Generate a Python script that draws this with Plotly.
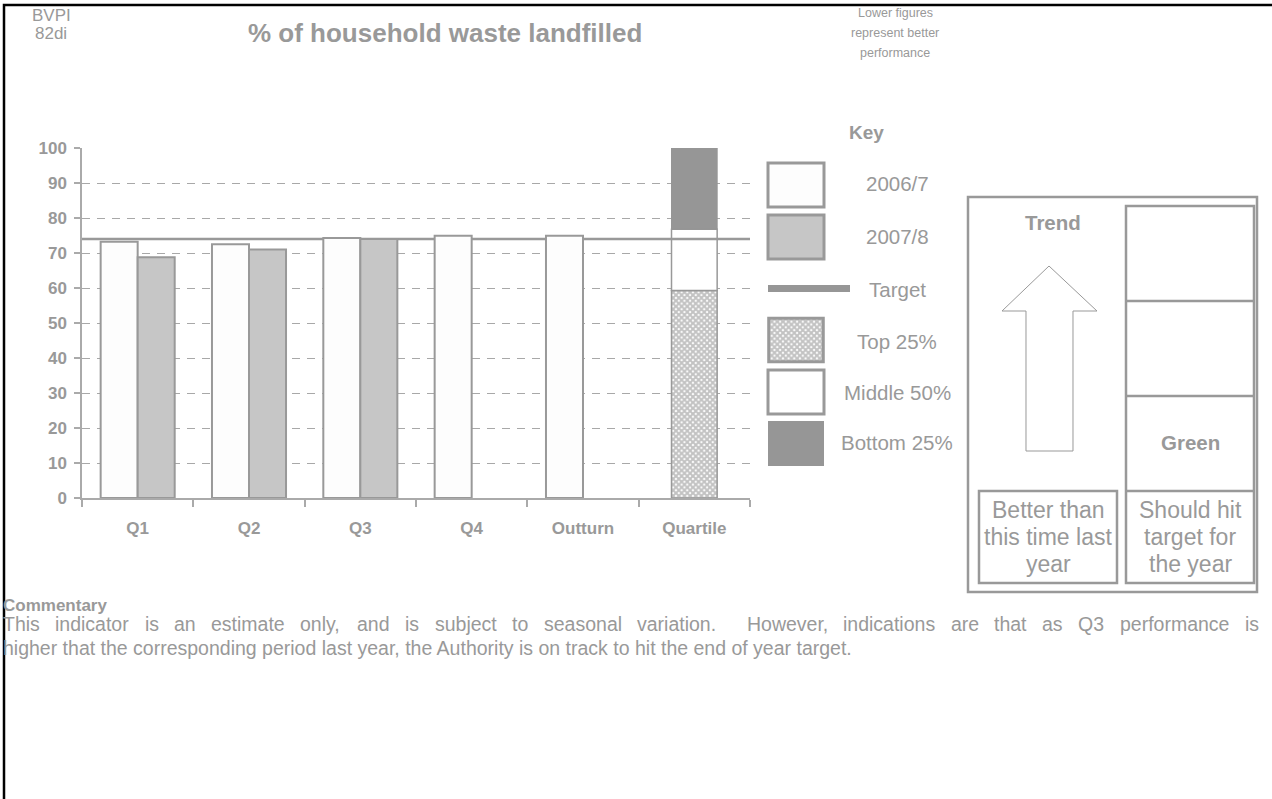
import plotly.graph_objects as go

W, H = 1272, 799

# ---------------- data ----------------
categories = ["Q1", "Q2", "Q3", "Q4", "Outturn", "Quartile"]
values_2006_7 = [73.2, 72.5, 74.3, 74.9, 74.9]
values_2007_8 = [68.8, 71.0, 74.0]
target_value = 74.0
quartile_top25 = 59.3      # top 25% band: 0 -> 59.3
quartile_mid50 = 76.8      # middle 50% band: 59.3 -> 76.8
quartile_max = 100.0       # bottom 25% band: 76.8 -> 100
y_ticks = list(range(0, 101, 10))

key_labels = ["2006/7", "2007/8", "Target", "Top 25%", "Middle 50%", "Bottom 25%"]
commentary = [
    "This indicator is an estimate only, and is subject to seasonal variation.  However, indications are that as Q3 performance is",
    "higher that the corresponding period last year, the Authority is on track to hit the end of year target.",
]

# ---------------- style ----------------
GREY = "#999999"
TXT = "#999999"
FONT = "Liberation Sans, Arial, sans-serif"
WHITE_FILL = "#fdfdfd"
LIGHT_FILL = "#c6c6c6"
DARK_FILL = "#969696"
QW = 0.41  # quartile bar width (category units)
CHECK = dict(shape="x", fgcolor="#858585", bgcolor="white", size=4, solidity=0.75)

# Arial / Liberation Sans advance widths (1/1000 em) for justified commentary line
AW = dict(zip("abcdefghijklmnopqrstuvwxyz",
              [556, 556, 500, 556, 556, 278, 556, 556, 222, 222, 500, 222, 833,
               556, 556, 556, 556, 333, 500, 278, 556, 500, 722, 500, 500, 500]))
AW.update({" ": 278, ",": 278, ".": 278, "T": 611, "H": 611, "Q": 778, "A": 667, "3": 556})


def text_w(s, size):
    return sum(AW.get(c, 556) for c in s) * size / 1000


def px(x):
    return x / W


def py(y):
    return 1 - y / H


fig = go.Figure()

fig.add_bar(name="2006/7", x=categories[:len(values_2006_7)], y=values_2006_7,
            marker=dict(color=WHITE_FILL, line=dict(color=GREY, width=2)))
fig.add_bar(name="2007/8", x=categories[:len(values_2007_8)], y=values_2007_8,
            marker=dict(color=LIGHT_FILL, line=dict(color=GREY, width=2)))

qx = [categories[-1]]
fig.add_bar(name="Top 25%", x=qx, base=[0], y=[quartile_top25], width=QW, offset=-QW / 2,
            marker=dict(color="white", line=dict(color=GREY, width=1.5), pattern=CHECK))
fig.add_bar(name="Middle 50%", x=qx, base=[quartile_top25], y=[quartile_mid50 - quartile_top25],
            width=QW, offset=-QW / 2,
            marker=dict(color="white", line=dict(color=GREY, width=1.5)))
fig.add_bar(name="Bottom 25%", x=qx, base=[quartile_mid50], y=[quartile_max - quartile_mid50],
            width=QW, offset=-QW / 2,
            marker=dict(color=DARK_FILL, line=dict(color=DARK_FILL, width=1)))

# key swatch for the patterned "Top 25%" (drawn on a hidden helper axis)
fig.add_bar(x=[0.5], y=[1], base=[0], width=[1], xaxis="x2", yaxis="y2", hoverinfo="skip",
            marker=dict(color="white", line=dict(color=GREY, width=3), pattern=CHECK))

shapes = []
# target line (behind bars) + segment over the quartile bar
shapes.append(dict(type="line", xref="x domain", yref="y", x0=0, x1=1, y0=target_value, y1=target_value,
                   line=dict(color=GREY, width=2.5), layer="below"))
qi = categories.index("Quartile")
shapes.append(dict(type="line", xref="x", yref="y", x0=qi - QW / 2, x1=qi + QW / 2,
                   y0=target_value, y1=target_value, line=dict(color=GREY, width=2.5), layer="above"))

# outer black frame (cut by the page edge)
shapes.append(dict(type="rect", xref="paper", yref="paper", x0=px(4), x1=px(1400), y0=py(5), y1=py(900),
                   line=dict(color="black", width=2.5), layer="below"))


def rect(x0, y0, x1, y1, fill, lc=GREY, lw=3):
    shapes.append(dict(type="rect", xref="paper", yref="paper", x0=px(x0), x1=px(x1), y0=py(y0), y1=py(y1),
                       fillcolor=fill, line=dict(color=lc, width=lw)))


# key swatches
rect(768, 163, 824, 207, WHITE_FILL)
rect(768, 215, 824, 259, LIGHT_FILL)
rect(768, 285, 850, 292, DARK_FILL, lc=DARK_FILL, lw=0)
rect(768, 370, 824, 414, "white")
rect(768, 421, 824, 466, DARK_FILL, lc=DARK_FILL, lw=0)

# right panel
rect(968, 197, 1257, 592, "rgba(0,0,0,0)", lw=2.5)
rect(1126, 206, 1254, 583, "rgba(0,0,0,0)", lw=2.5)
for yy in (301, 396, 491):
    shapes.append(dict(type="line", xref="paper", yref="paper", x0=px(1126), x1=px(1254), y0=py(yy), y1=py(yy),
                       line=dict(color=GREY, width=2.5)))
rect(979, 491, 1117, 583, "rgba(0,0,0,0)", lw=2.5)

# trend arrow
pts = [(1049, 266), (1097, 311), (1073, 311), (1073, 451), (1026, 451), (1026, 311), (1002, 311)]
path = "M " + " L ".join(f"{px(a):.5f},{py(b):.5f}" for a, b in pts) + " Z"
shapes.append(dict(type="path", xref="paper", yref="paper", path=path, line=dict(color=GREY, width=1),
                   fillcolor="white"))

annotations = []


def txt(text, x, y, size=16, bold=False, xanchor="center"):
    annotations.append(dict(text=f"<b>{text}</b>" if bold else text, x=px(x), y=py(y), xref="paper",
                            yref="paper", showarrow=False, xanchor=xanchor, yanchor="middle",
                            font=dict(family=FONT, size=size, color=TXT)))


txt("BVPI", 51, 15, size=17)
txt("82di", 51, 34, size=17)
txt("% of household waste landfilled", 445, 33, size=26, bold=True)
txt("Lower figures", 895, 13, size=12.5)
txt("represent better", 895, 33, size=12.5)
txt("performance", 895, 53, size=12.5)
txt("Key", 866, 132, size=19, bold=True)
for lab, yy in zip(key_labels, [184, 237, 289, 341, 392, 443]):
    txt(lab, 897, yy, size=20.5)
txt("Trend", 1053, 223, size=20.5, bold=True)
txt("Green", 1190, 443, size=20.5, bold=True)
for line, yy in zip(["Better than", "this time last", "year"], [510, 537, 564]):
    txt(line, 1048, yy, size=23)
for line, yy in zip(["Should hit", "target for", "the year"], [510, 537, 564]):
    txt(line, 1190, yy, size=23)
txt("Commentary", 1, 605, size=17, bold=True, xanchor="left")

# commentary: first line justified across the text box, last line left-aligned
CS = 19.5
LEFT, RIGHT = 1, 1257
tokens = commentary[0].split(" ")
n_spaces = len(tokens) - 1
gap = (RIGHT - LEFT - sum(text_w(t, CS) for t in tokens if t)) / n_spaces
xc = LEFT
for t in tokens:
    if t:
        txt(t, xc, 624, size=CS, xanchor="left")
        xc += text_w(t, CS)
    xc += gap
txt(commentary[1], LEFT, 648, size=CS, xanchor="left")

fig.update_layout(
    width=W, height=H, margin=dict(l=0, r=0, t=0, b=0, autoexpand=False),
    paper_bgcolor="white", plot_bgcolor="white",
    barmode="group", bargap=0.335, bargroupgap=0,
    showlegend=False,
    shapes=shapes, annotations=annotations,
    font=dict(family=FONT, color=TXT),
    xaxis=dict(domain=[px(82), px(750)], type="category", categoryorder="array", categoryarray=categories,
               showline=True, linecolor="#aaaaaa", linewidth=1.5, ticks="outside", tickson="boundaries",
               ticklen=7, tickcolor="#aaaaaa", tickwidth=1.5, ticklabelstandoff=14,
               tickfont=dict(family=FONT, size=17, color=TXT, weight="bold"), showgrid=False),
    yaxis=dict(domain=[py(498), py(148)], range=[0, 100], tickvals=y_ticks,
               showline=True, linecolor="#aaaaaa", linewidth=1.5, ticks="outside", ticklen=6,
               tickcolor="#aaaaaa", tickwidth=1.5, ticklabelstandoff=4,
               tickfont=dict(family=FONT, size=17, color=TXT, weight="bold"),
               showgrid=True, gridcolor="#a8a8a8", gridwidth=1, griddash="8px,7px", zeroline=False),
    xaxis2=dict(domain=[px(766), px(826)], range=[-0.05, 1.05], visible=False, fixedrange=True, anchor="y2"),
    yaxis2=dict(domain=[py(364), py(316)], range=[-0.05, 1.05], visible=False, fixedrange=True, anchor="x2"),
)

post = """
document.documentElement.style.margin='0';
document.body.style.margin='0';
document.body.style.padding='0';
document.documentElement.style.overflow='hidden';
document.body.style.overflow='hidden';
var gd=document.querySelector('.plotly-graph-div');
gd.style.position='fixed'; gd.style.top='0px'; gd.style.left='0px';
"""
fig.write_html("out.html", config={"displayModeBar": False}, post_script=post)
